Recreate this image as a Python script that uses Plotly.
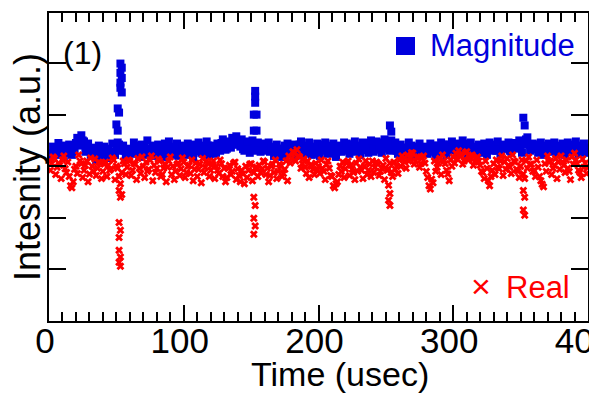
import plotly.graph_objects as go

# ---- data ----
# samples at even times 0,2,...,400 usec
mag_even = [
    3.20, 3.25, 3.30, 3.22, 3.35, 3.28, 3.40, 3.32, 3.26, 3.38,
    3.45, 3.52, 3.60, 3.48, 3.35, 3.30, 3.22, 3.36, 3.28, 3.18,
    3.30, 3.25, 3.34, 3.20, 3.28, 3.38, 3.42, 3.35, 3.30, 3.26,
    3.32, 3.28, 3.40, 3.36, 3.25, 3.30, 3.22, 3.34, 3.29, 3.37,
    3.31, 3.24, 3.35, 3.44, 3.30, 3.26, 3.38, 3.28, 3.20, 3.33,
    3.36, 3.30, 3.25, 3.42, 3.38, 3.29, 3.32, 3.24, 3.35, 3.40,
    3.28, 3.33, 3.26, 3.37, 3.45, 3.40, 3.34, 3.48, 3.55, 3.42,
    3.50, 3.38, 3.33, 3.45, 3.40, 3.36, 3.42, 3.30, 3.38, 3.35,
    3.44, 3.32, 3.28, 3.36, 3.25, 3.30, 3.34, 3.22, 3.29, 3.35,
    3.31, 3.27, 3.38, 3.42, 3.33, 3.26, 3.30, 3.36, 3.24, 3.32,
    3.28, 3.35, 3.30, 3.40, 3.37, 3.26, 3.32, 3.29, 3.38, 3.34,
    3.30, 3.36, 3.42, 3.33, 3.28, 3.35, 3.40, 3.31, 3.38, 3.45,
    3.36, 3.32, 3.40, 3.46, 3.38, 3.34, 3.42, 3.50, 3.36, 3.30,
    3.34, 3.28, 3.36, 3.31, 3.26, 3.33, 3.38, 3.29, 3.35, 3.30,
    3.32, 3.37, 3.28, 3.34, 3.40, 3.30, 3.26, 3.35, 3.42, 3.36,
    3.31, 3.38, 3.44, 3.35, 3.29, 3.40, 3.33, 3.27, 3.36, 3.30,
    3.34, 3.28, 3.37, 3.32, 3.40, 3.35, 3.30, 3.38, 3.33, 3.42,
    3.36, 3.30, 3.38, 3.45, 3.34, 3.40, 3.48, 3.52, 3.42, 3.36,
    3.33, 3.40, 3.30, 3.36, 3.28, 3.35, 3.42, 3.31, 3.38, 3.34,
    3.29, 3.37, 3.32, 3.40, 3.35, 3.30, 3.38, 3.33, 3.27, 3.36,
    3.32,
]
# samples at odd times 1,3,...,399 usec
mag_odd = [
    3.15, 3.38, 3.24, 3.45, 3.30, 3.18, 3.36, 3.42, 3.22, 3.30,
    3.55, 3.40, 3.50, 3.28, 3.44, 3.20, 3.32, 3.12, 3.40, 3.26,
    3.38, 3.16, 3.28, 3.44, 3.22, 3.46, 3.30, 3.40, 3.18, 3.34,
    3.24, 3.46, 3.30, 3.18, 3.42, 3.36, 3.50, 3.26, 3.40, 3.20,
    3.42, 3.30, 3.18, 3.36, 3.48, 3.22, 3.34, 3.44, 3.28, 3.40,
    3.22, 3.44, 3.34, 3.16, 3.30, 3.46, 3.26, 3.40, 3.48, 3.20,
    3.40, 3.24, 3.44, 3.30, 3.52, 3.32, 3.46, 3.36, 3.42, 3.58,
    3.44, 3.52, 3.30, 3.48, 3.26, 3.50, 3.34, 3.46, 3.28, 3.42,
    3.30, 3.46, 3.38, 3.20, 3.42, 3.34, 3.18, 3.40, 3.44, 3.24,
    3.42, 3.20, 3.30, 3.48, 3.24, 3.40, 3.46, 3.22, 3.38, 3.44,
    3.20, 3.42, 3.46, 3.24, 3.32, 3.44, 3.18, 3.40, 3.28, 3.46,
    3.44, 3.24, 3.30, 3.48, 3.36, 3.22, 3.46, 3.40, 3.26, 3.50,
    3.28, 3.48, 3.34, 3.26, 3.52, 3.44, 3.30, 3.40, 3.46, 3.24,
    3.42, 3.36, 3.22, 3.46, 3.40, 3.20, 3.30, 3.44, 3.26, 3.38,
    3.24, 3.44, 3.40, 3.20, 3.30, 3.46, 3.42, 3.22, 3.32, 3.48,
    3.40, 3.26, 3.34, 3.50, 3.44, 3.22, 3.46, 3.38, 3.24, 3.42,
    3.26, 3.44, 3.22, 3.46, 3.30, 3.42, 3.48, 3.24, 3.40, 3.34,
    3.46, 3.28, 3.44, 3.36, 3.50, 3.26, 3.42, 3.56, 3.30, 3.44,
    3.42, 3.26, 3.46, 3.22, 3.40, 3.44, 3.28, 3.46, 3.24, 3.40,
    3.44, 3.22, 3.46, 3.28, 3.42, 3.48, 3.24, 3.40, 3.44, 3.26,
]
real_even = [
    3.10, 3.05, 3.15, 2.98, 3.02, 3.12, 2.95, 3.08, 2.62, 2.70,
    3.00, 3.22, 3.05, 2.92, 3.10, 2.85, 3.00, 3.14, 2.96, 3.06,
    2.90, 3.08, 3.02, 2.95, 3.12, 3.00, 2.80, 2.88, 3.05, 2.98,
    3.10, 2.92, 3.04, 3.15, 2.86, 3.00, 3.08, 2.94, 3.20, 3.02,
    2.96, 3.10, 2.84, 3.05, 2.98, 3.18, 3.00, 2.90, 3.06, 2.95,
    3.08, 2.88, 3.02, 3.12, 2.94, 2.80, 3.04, 3.15, 2.98, 3.06,
    2.92, 3.10, 3.00, 2.86, 3.05, 2.96, 2.78, 3.02, 2.90, 3.08,
    2.95, 2.70, 2.85, 3.00, 2.92, 3.05, 2.88, 2.98, 3.02, 2.94,
    3.08, 2.96, 2.82, 3.04, 3.12, 2.90, 3.00, 2.86, 3.10, 3.20,
    3.15, 3.25, 3.32, 3.18, 3.05, 2.98, 3.10, 3.02, 2.94, 3.06,
    3.00, 3.12, 2.90, 3.04, 2.96, 2.80, 2.58, 2.70, 3.00, 3.08,
    2.95, 3.10, 3.02, 2.88, 3.06, 3.14, 2.92, 3.00, 2.84, 3.04,
    3.10, 2.98, 3.05, 2.90, 3.02, 3.15, 2.95, 2.88, 3.08, 3.00,
    3.12, 3.20, 3.08, 3.22, 3.15, 3.25, 3.10, 3.18, 3.05, 3.20,
    2.90, 2.62, 2.75, 3.10, 2.98, 3.15, 3.22, 3.05, 2.85, 3.12,
    3.18, 3.25, 3.30, 3.20, 3.10, 3.28, 3.15, 3.22, 3.08, 3.18,
    3.02, 2.88, 3.10, 2.72, 2.80, 3.05, 3.12, 2.95, 3.20, 3.08,
    3.15, 2.98, 3.22, 3.08, 2.90, 3.00, 2.85, 3.10, 3.18, 3.04,
    2.92, 3.12, 2.80, 2.65, 3.05, 3.20, 3.10, 2.96, 3.15, 3.08,
    3.20, 3.02, 3.12, 2.90, 3.18, 3.25, 3.05, 2.88, 3.14, 3.06,
    2.98,
]
real_odd = [
    2.92, 3.18, 2.84, 3.06, 2.76, 3.20, 2.88, 2.80, 2.58, 2.94,
    2.86, 3.10, 2.78, 3.02, 2.70, 3.16, 2.90, 2.82, 3.08, 2.76,
    3.04, 2.80, 2.92, 3.16, 2.74, 2.96, 2.66, 3.10, 2.84, 3.12,
    2.82, 3.06, 2.74, 2.96, 3.18, 2.78, 2.90, 3.12, 2.72, 2.88,
    3.14, 2.80, 2.96, 2.70, 3.10, 2.84, 2.74, 3.04, 2.82, 3.16,
    2.78, 3.00, 2.86, 2.72, 3.06, 2.94, 2.68, 2.88, 3.10, 2.80,
    3.02, 2.76, 2.92, 3.12, 2.80, 2.70, 2.96, 2.84, 3.06, 2.74,
    2.82, 2.92, 2.66, 2.78, 3.04, 2.72, 2.96, 2.80, 2.88, 3.10,
    2.84, 2.70, 3.00, 2.88, 2.76, 3.04, 2.80, 2.94, 2.72, 3.06,
    3.28, 3.10, 3.20, 2.96, 3.14, 2.86, 2.78, 3.00, 2.84, 2.92,
    2.86, 2.96, 2.74, 3.10, 2.82, 2.62, 2.66, 2.84, 2.90, 2.78,
    3.06, 2.82, 2.94, 2.74, 2.90, 2.98, 2.76, 3.10, 2.92, 2.80,
    2.88, 3.08, 2.82, 2.96, 2.74, 2.92, 3.06, 2.80, 2.94, 2.86,
    3.00, 3.14, 2.96, 3.10, 3.26, 3.04, 3.18, 2.98, 3.16, 3.06,
    2.78, 2.56, 2.68, 2.90, 3.06, 2.84, 3.10, 2.92, 2.72, 3.00,
    3.06, 3.14, 3.22, 3.04, 3.26, 3.12, 3.20, 3.02, 3.16, 3.10,
    2.90, 2.76, 2.96, 2.62, 2.92, 2.84, 2.98, 3.10, 2.82, 2.94,
    3.02, 2.86, 3.10, 2.94, 2.78, 3.12, 2.76, 2.96, 3.04, 2.90,
    2.80, 2.98, 2.72, 2.60, 2.90, 3.08, 2.84, 3.02, 2.76, 2.94,
    3.08, 2.88, 2.96, 2.74, 3.04, 3.12, 2.92, 2.78, 2.98, 2.86,
]
# pulses (several samples at nearly the same time)
mag_spike_t = [53, 54, 53, 54, 53, 53, 54, 51, 52, 50, 51,
               153, 153, 153, 152, 154, 152, 154,
               253, 254, 352, 353]
mag_spike_v = [4.99, 4.91, 4.81, 4.71, 4.62, 4.52, 4.43, 4.12, 4.04, 3.81, 3.69,
               4.46, 4.35, 4.23, 4.00, 4.00, 3.69, 3.69,
               3.79, 3.67, 3.94, 3.79]
real_spike_t = [52, 53, 54, 52, 53, 52, 52, 53, 52, 53,
                152, 153, 152, 153, 152,
                252, 253, 252, 253,
                352, 353, 352, 353]
real_spike_v = [2.53, 2.40, 2.45, 1.91, 1.76, 1.62, 1.37, 1.24, 1.14, 1.06,
                2.40, 2.24, 1.99, 1.84, 1.68,
                2.63, 2.47, 2.34, 2.24,
                2.53, 2.40, 2.15, 2.05]
x_tick_vals = [0, 100, 200, 300, 400]
x_tick_text = ["0", "100", "200", "300", "400"]
y_tick_vals = [0, 1, 2, 3, 4, 5]

even_t = [2 * i for i in range(len(mag_even))]
odd_t = [2 * i + 1 for i in range(len(mag_odd))]
mag_t = even_t + odd_t + mag_spike_t
mag_v = mag_even + mag_odd + mag_spike_v
real_t = even_t + odd_t + real_spike_t
real_v = real_even + real_odd + real_spike_v

BLUE = "#0000dd"
RED = "#ff0000"
FONT = "Arial, Liberation Sans, sans-serif"

fig = go.Figure()
fig.add_trace(go.Scatter(x=mag_t, y=mag_v, mode="markers", name="Magnitude",
                         marker=dict(symbol="square", size=8, color=BLUE, line=dict(width=0))))
fig.add_trace(go.Scatter(x=real_t, y=real_v, mode="markers", name="Real",
                         marker=dict(symbol="x", size=7, color=RED, line=dict(width=0))))

axis_common = dict(showline=True, linecolor="black", linewidth=2, mirror="ticks",
                   ticks="inside", tickcolor="black", tickwidth=2,
                   showgrid=False, zeroline=False, automargin=False)

fig.update_xaxes(range=[0, 400], tickvals=x_tick_vals, ticktext=x_tick_text, ticklen=16,
                 tickfont=dict(family=FONT, size=35, color="black"),
                 minor=dict(dtick=10, ticklen=9, ticks="inside", tickwidth=2, tickcolor="black",
                            showgrid=False),
                 ticklabelshift=-4, ticklabelstandoff=-12, ticklabeloverflow="allow",
                 **axis_common)
fig.update_yaxes(range=[0, 5.97], tickvals=y_tick_vals, ticklen=17, showticklabels=False,
                 **axis_common)

def px_x(p):
    return (p - 49) / 539

def px_y(p):
    return (321 - p) / 308

ann = []
ann.append(dict(text="(1)", x=px_x(61), y=px_y(53), xanchor="left", yanchor="middle",
                font=dict(family=FONT, size=32, color="black")))
ann.append(dict(text="Magnitude", x=px_x(577), y=px_y(45), xanchor="right", yanchor="middle",
                font=dict(family=FONT, size=31, color=BLUE)))
ann.append(dict(text="Real", x=px_x(572), y=px_y(287), xanchor="right", yanchor="middle",
                font=dict(family=FONT, size=31, color=RED)))
ann.append(dict(text="×", x=px_x(481), y=px_y(286), xanchor="center", yanchor="middle",
                font=dict(family=FONT, size=34, color=RED)))
ann.append(dict(text="Intesnity (a.u.)", x=px_x(27), y=px_y(167), textangle=-90,
                xanchor="center", yanchor="middle",
                font=dict(family=FONT, size=36, color="black")))
ann.append(dict(text="Time (usec)", x=px_x(340), y=px_y(374), xanchor="center", yanchor="middle",
                font=dict(family=FONT, size=34, color="black")))
for a in ann:
    a.update(xref="paper", yref="paper", showarrow=False)

fig.update_layout(
    width=589, height=394,
    margin=dict(l=49, r=1, t=13, b=73, pad=0),
    paper_bgcolor="white", plot_bgcolor="white",
    showlegend=False,
    annotations=ann,
    shapes=[dict(type="rect", xref="paper", yref="paper",
                 x0=px_x(396), x1=px_x(415), y0=px_y(55), y1=px_y(37),
                 fillcolor=BLUE, line=dict(width=0))],
)

fig.write_html("out.html", config={"displayModeBar": False},
               post_script="document.body.style.margin='0';document.body.style.overflow='hidden';")
